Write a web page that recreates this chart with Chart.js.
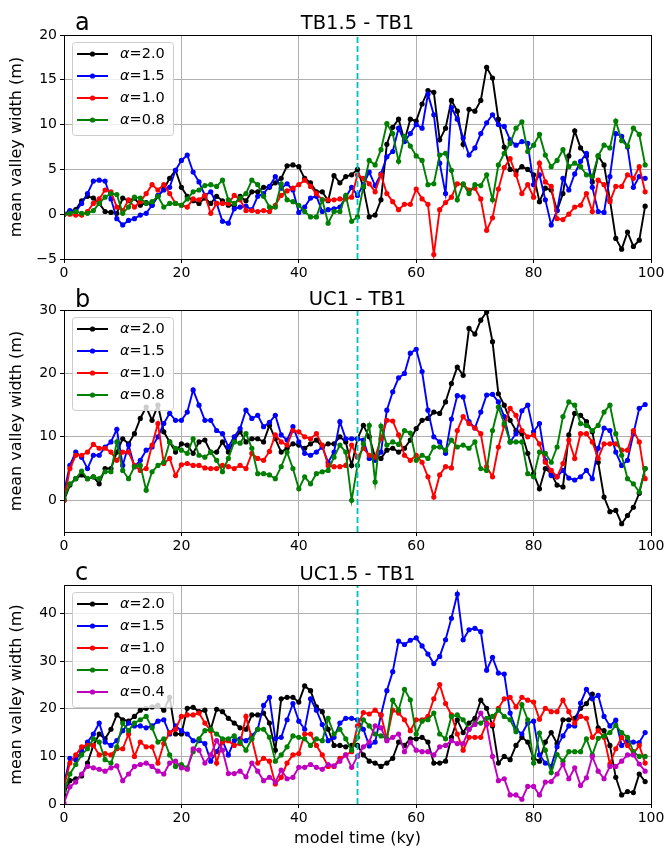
<!DOCTYPE html>
<html>
<head>
<meta charset="utf-8">
<script src="https://cdn.jsdelivr.net/npm/chart.js@4.4.1/dist/chart.umd.min.js"></script>
<style>
  body { margin: 0; background: #fff; }
  canvas.panel { position: absolute; left: 0; }
</style>
</head>
<body>
<canvas id="chartA" class="panel" width="669" height="282" style="top:0px"></canvas>
<canvas id="chartB" class="panel" width="669" height="273" style="top:282px"></canvas>
<canvas id="chartC" class="panel" width="669" height="293" style="top:555px"></canvas>
<script>
// model time (ky), one sample per ky
const time = [0,1,2,3,4,5,6,7,8,9,10,11,12,13,14,15,16,17,18,19,20,21,22,23,24,25,26,27,28,29,
  30,31,32,33,34,35,36,37,38,39,40,41,42,43,44,45,46,47,48,49,50,51,52,53,54,55,56,57,58,59,
  60,61,62,63,64,65,66,67,68,69,70,71,72,73,74,75,76,77,78,79,80,81,82,83,84,85,86,87,88,89,
  90,91,92,93,94,95,96,97,98,99];

const xTicks = [0, 20, 40, 60, 80, 100];
const yTicksA = [-5, 0, 5, 10, 15, 20];
const yTicksB = [0, 10, 20, 30];
const yTicksC = [0, 10, 20, 30, 40];

const alphaLabels = ['2.0', '1.5', '1.0', '0.8', '0.4'];
const alphaColors = ['#000000', '#0000ff', '#ff0000', '#008000', '#bf00bf'];

// TB1.5 - TB1
const tb15Alpha20 = [0,0.3,0.5,1.5,2.0,1.8,1.2,0.3,0.2,0.1, 1.8,1.5,1.8,1.0,1.3,1.0,2.0,2.8,4.0,4.9,
  3.0,2.0,1.5,1.2,1.8,1.2,2.0,1.5,1.0,1.0, 2.0,1.5,2.5,2.5,3.0,3.0,3.5,4.0,5.4,5.5,
  5.3,4.0,3.5,2.5,2.5,1.5,4.3,3.5,4.2,4.4, 5.0,3.0,-0.3,-0.1,1.6,7.8,9.7,10.6,8.2,10.6,
  10.4,12.3,13.8,13.6,8.3,9.6,12.7,11.5,7.8,11.7, 11.5,12.7,16.4,15.2,10.6,7.5,5.0,4.8,5.3,5.0,
  4.4,1.4,2.9,2.7,0.4,2.3,6.5,9.3,7.4,6.5, 3.6,6.5,5.5,1.6,-2.7,-3.9,-2.0,-3.6,-2.9,0.9];
const tb15Alpha15 = [0,0.4,0.3,1.2,2.3,3.7,3.8,3.7,1.7,-0.5, -1.2,-0.7,-0.5,-0.1,0.1,1.0,2.1,2.7,3.0,4.9,
  6.0,6.6,4.7,3.6,2.1,2.5,1.2,-0.8,-1.0,0.6, 0.8,0.9,0.5,2.0,2.3,3.1,4.2,2.9,3.4,2.7,
  0.2,0.8,1.8,2.0,0.3,0.5,0.6,0.8,1.9,3.0, 2.1,3.3,4.7,3.2,4.5,6.4,7.0,9.6,8.1,9.0,
  10.0,9.6,13.4,11.1,5.7,2.3,11.9,10.6,8.5,6.6, 7.4,9.0,10.2,11.1,10.0,9.8,8.3,7.7,8.1,7.9,
  3.3,4.4,1.6,-1.2,0.4,4.0,2.7,4.5,5.9,6.8, 3.0,0.3,0.2,4.2,9.0,8.7,7.5,3.0,4.2,4.0];
const tb15Alpha10 = [0,0,-0.1,-0.1,0.3,1.2,1.7,2.7,2.5,0.8, 0.4,1.6,0.8,1.4,2.3,3.3,2.7,3.3,2.3,1.2,
  1.0,0.8,1.7,1.6,2.1,0.1,1.2,1.2,1.2,2.1, 1.6,0.4,0.4,0.3,0.4,0.3,1.0,2.1,2.6,2.9,
  3.3,3.8,3.1,2.3,1.6,1.6,1.6,1.7,1.7,1.9, 4.4,4.0,3.4,2.5,4.4,2.3,1.4,0.5,1.1,1.1,
  2.8,1.7,1.1,-4.5,0.5,1.3,1.9,3.4,3.3,2.7, 2.9,1.7,-1.8,-0.4,2.8,5.2,6.2,4.4,2.3,3.3,
  1.9,5.7,3.6,3.1,-0.5,-0.6,0.0,0.8,1.0,2.3, 0.3,3.8,3.3,1.4,3.1,3.1,4.4,4.0,5.3,2.5];
const tb15Alpha08 = [0,0.1,0.3,0.1,0.1,0.4,1.2,1.9,2.3,2.2, 0.1,0.8,1.9,1.8,1.2,1.4,2.0,0.8,1.2,1.2,
  1.0,1.7,2.5,2.7,3.2,3.3,3.1,3.8,1.6,1.2, 1.8,2.3,3.8,3.3,2.0,0.8,0.8,3.4,1.6,1.4,
  1.0,0.3,-0.3,-0.3,1.6,-1.0,0.3,0.3,2.1,-0.8, -0.3,3.1,6.0,5.5,7.2,10.1,9.0,5.9,8.7,7.6,
  6.5,6.0,3.3,3.4,6.6,6.8,4.9,1.6,3.4,2.3, 3.3,3.2,4.4,1.6,5.5,6.8,7.9,9.6,10.3,7.0,
  7.7,8.9,6.6,5.3,6.0,7.2,5.3,5.7,5.3,4.4, 4.2,6.5,7.7,7.4,10.4,8.2,7.6,9.6,8.9,5.5];

// UC1 - TB1
const uc1Alpha20 = [0,2.4,3.4,4.0,3.4,3.7,2.6,5.0,5.0,7.6, 9.7,8.9,10.5,12.9,14.7,12.6,15.0,10.8,9.2,7.6,
  8.9,8.7,7.4,9.2,9.5,7.6,7.6,9.2,7.6,9.5, 10.8,9.2,9.7,9.7,9.2,11.8,9.7,7.6,8.2,8.9,
  8.7,8.2,8.9,9.5,8.4,8.9,8.9,10.0,9.2,5.5, 9.7,11.8,10.0,6.8,6.6,7.9,8.2,7.6,8.2,9.5,
  11.3,12.6,12.9,13.9,13.7,15.5,18.4,21.0,19.7,27.1, 26.2,28.4,29.7,25.0,16.8,15.0,12.6,11.0,10.5,7.4,
  4.2,1.8,5.0,4.2,2.4,2.1,10.3,13.7,13.4,12.4, 10.8,6.0,0.5,-1.8,-1.6,-3.7,-2.4,-1.1,1.1,5.0];
const uc1Alpha15 = [1.3,5.5,7.6,6.8,5.0,7.1,7.1,8.4,9.2,11.2, 5.5,8.7,5.3,6.3,7.9,8.4,10.0,12.1,13.7,12.6,
  12.6,13.9,17.4,15.0,12.6,12.6,11.0,10.5,8.4,10.0, 11.3,14.2,12.9,13.4,11.6,12.3,13.4,10.3,9.5,11.6,
  9.2,7.4,7.1,7.6,8.4,6.0,7.6,12.4,9.7,9.7, 9.7,9.5,6.6,6.3,7.6,14.2,17.1,19.3,20.0,23.2,
  23.8,20.3,14.2,10.0,9.2,7.4,12.8,16.5,16.3,12.4, 11.4,13.9,16.6,16.7,15.5,13.2,9.2,10.5,14.1,15.0,
  10.8,12.1,6.3,3.9,3.7,4.7,3.5,3.2,3.7,4.7, 3.4,8.2,11.4,11.0,7.6,5.5,6.3,10.5,14.5,15.1];
const uc1Alpha10 = [0,5.0,7.1,7.1,7.6,8.8,8.2,8.2,7.6,6.3, 7.6,7.6,5.5,4.7,5.0,8.7,12.1,5.8,6.6,3.9,
  5.6,5.8,5.5,5.5,5.1,5.0,5.0,5.5,5.3,5.0, 5.5,5.0,7.4,6.6,6.3,7.7,10.3,9.2,8.7,11.0,
  10.8,10.0,9.7,10.5,8.7,5.5,5.3,5.3,5.5,8.7, 6.8,8.2,7.1,6.8,9.7,12.6,12.5,10.3,7.1,6.3,
  7.1,6.0,3.7,0.5,4.0,5.3,5.1,11.0,13.2,12.1, 11.4,10.5,5.3,3.7,8.4,11.8,14.5,13.4,11.0,10.0,
  10.3,8.9,6.0,4.7,3.7,5.8,9.5,6.6,10.5,10.5, 9.2,6.6,8.9,8.9,8.9,7.9,7.9,11.0,9.2,3.4];
const uc1Alpha08 = [0.3,2.6,3.4,4.6,3.4,3.7,3.4,4.5,4.5,9.2, 4.7,3.4,5.3,5.5,1.6,4.5,5.5,6.0,9.2,8.2,
  7.9,7.4,9.7,7.1,6.8,7.6,6.3,4.5,6.6,9.2, 9.0,10.5,8.2,4.2,4.2,4.0,3.4,5.3,7.6,5.0,
  1.8,3.7,2.6,4.2,4.5,4.7,6.8,8.7,7.6,0.0, 5.5,8.9,11.8,2.9,11.7,8.7,9.2,8.8,11.0,10.6,
  6.3,7.1,6.6,8.4,8.4,7.9,9.5,8.4,8.7,8.2, 9.2,5.0,4.7,11.0,14.7,12.1,9.2,9.2,9.2,4.2,
  3.7,7.6,7.4,6.0,8.4,13.2,15.5,15.0,12.1,11.8, 11.0,11.8,13.9,15.0,10.5,7.1,3.4,2.6,1.3,5.0];

// UC1.5 - TB1
const uc15Alpha20 = [2.0,4.9,5.3,5.9,8.6,12.3,14.7,13.7,15.7,18.7, 17.7,17.4,18.4,19.7,20.1,20.4,20.7,19.7,22.4,14.7,
  14.7,20.1,20.3,19.4,19.7,15.7,19.9,19.4,18.0,17.0, 16.0,15.7,18.7,18.7,19.1,17.0,11.3,22.1,22.4,22.4,
  21.4,24.8,23.8,20.4,19.4,15.7,12.3,12.3,12.0,12.3, 12.3,10.3,9.0,8.6,7.9,8.6,9.6,13.0,12.3,13.7,
  13.7,14.0,13.0,8.6,8.6,9.0,14.0,17.7,15.0,17.0, 18.0,21.8,20.1,16.4,8.6,10.0,9.3,12.3,14.0,13.0,
  9.6,9.0,13.0,15.0,12.7,17.7,17.7,18.0,20.1,21.1, 23.1,16.0,15.4,12.3,5.6,1.9,2.6,2.4,6.3,4.7];
const uc15Alpha15 = [4.2,9.6,9.3,11.1,13.0,14.7,17.0,13.0,12.3,13.3, 15.4,17.0,16.4,16.4,16.0,16.4,17.4,17.7,14.7,16.4,
  15.4,14.7,13.3,13.3,12.7,9.0,11.0,13.3,10.3,13.3, 13.7,13.3,14.3,15.7,20.7,22.4,13.7,14.0,17.7,21.1,
  17.4,15.7,22.1,19.7,16.7,13.3,14.0,17.0,18.0,18.0, 17.7,15.7,12.2,13.0,18.7,23.8,27.8,34.2,33.5,34.4,
  34.9,33.2,31.5,29.5,31.0,34.5,39.0,44.1,34.5,36.6, 36.9,36.2,28.1,30.8,27.5,27.3,19.1,15.7,14.7,17.0,
  17.4,10.3,8.6,7.9,12.0,14.3,16.4,16.4,21.2,24.1, 22.1,22.8,18.4,16.4,17.6,12.3,13.3,13.0,12.9,15.0];
const uc15Alpha10 = [3.6,8.6,10.3,12.0,12.3,12.3,10.3,10.6,10.3,11.6, 11.6,14.7,10.0,13.0,12.0,12.0,8.6,12.7,15.0,15.7,
  18.4,18.7,18.7,19.1,17.0,15.4,8.6,13.0,13.3,12.3, 12.7,18.4,13.7,8.6,9.6,9.0,4.2,5.6,8.6,10.3,
  10.6,14.7,14.7,12.3,10.3,7.9,7.9,9.6,10.3,11.0, 16.4,19.2,18.9,19.7,18.7,13.7,19.7,19.1,17.7,15.4,
  17.7,17.7,18.4,22.1,25.1,21.1,18.7,14.7,11.3,14.0, 14.0,14.0,17.0,16.7,20.1,22.1,22.4,20.4,22.4,21.8,
  21.4,17.8,20.1,19.4,19.4,21.8,19.4,17.0,18.4,18.0, 14.0,15.4,14.0,8.4,11.6,14.0,12.3,10.6,12.3,8.6];
const uc15Alpha08 = [2.6,6.3,8.3,10.3,11.6,13.7,13.0,9.3,8.6,12.0, 17.0,15.4,17.0,17.7,18.4,16.0,13.0,13.7,10.3,7.9,
  8.3,7.6,11.0,13.7,15.4,15.7,14.7,13.7,13.7,14.3, 13.0,11.3,13.7,15.7,15.7,14.0,9.0,10.3,12.0,14.3,
  14.0,13.7,12.3,13.7,13.3,18.0,14.7,15.7,13.7,11.3, 14.0,17.7,16.4,14.7,14.3,13.7,21.8,19.7,24.1,21.9,
  14.7,17.4,17.7,19.1,14.7,13.7,18.4,18.7,17.7,15.7, 17.0,17.0,18.0,18.4,19.7,18.4,17.7,15.2,20.9,17.7,
  8.6,14.9,11.3,6.6,10.4,9.0,11.0,11.0,11.0,13.7, 10.3,13.8,14.3,15.0,16.5,15.0,14.0,11.0,10.0,10.0];
const uc15Alpha04 = [0.2,3.6,4.6,6.3,7.9,7.6,7.3,6.9,7.6,8.0, 4.9,6.3,7.9,8.3,8.6,7.9,6.9,6.3,8.6,9.0,
  7.6,7.3,11.6,11.3,8.6,10.3,13.3,11.3,6.4,6.4, 6.9,5.7,8.6,6.9,4.9,5.6,4.6,7.1,5.3,5.6,
  7.7,7.7,8.3,7.7,7.3,8.3,8.0,9.0,10.3,7.7, 10.0,12.0,13.0,16.4,16.0,13.3,14.0,14.7,11.0,13.0,
  11.3,11.0,11.0,10.3,12.0,12.3,13.3,12.7,12.7,15.7, 16.7,19.1,16.7,10.0,4.9,5.3,1.9,1.9,1.0,3.7,
  3.7,1.9,4.6,4.7,6.3,8.3,5.3,7.6,3.9,5.5, 10.0,6.9,5.3,7.9,7.9,9.0,10.3,10.3,8.4,6.9];

const MARK_TIME = 50;   // dashed marker on the time axis

// frame, title, panel letter and the line+marker legend
const panelDecor = {
  id: 'panelDecor',
  afterDatasetsDraw(chart, args, opts) {
    const ctx = chart.ctx;
    const area = chart.chartArea;
    ctx.save();

    // legend box (semi transparent, over the lines)
    const bx = area.left + 8, by = area.top + 7;
    const rowGap = 22;
    const bw = 101, bh = 27 + (opts.count - 1) * rowGap;
    ctx.fillStyle = 'rgba(255,255,255,0.8)';
    ctx.strokeStyle = '#cccccc';
    ctx.lineWidth = 1;
    ctx.beginPath();
    ctx.roundRect(bx + 0.5, by + 0.5, bw, bh, 3);
    ctx.fill();
    ctx.stroke();
    for (let i = 0; i < opts.count; i++) {
      const y = by + 12 + i * rowGap;
      ctx.strokeStyle = alphaColors[i];
      ctx.lineWidth = 2;
      ctx.beginPath();
      ctx.moveTo(bx + 5, y);
      ctx.lineTo(bx + 36, y);
      ctx.stroke();
      ctx.fillStyle = alphaColors[i];
      ctx.beginPath();
      ctx.arc(bx + 20.5, y, 2.6, 0, Math.PI * 2);
      ctx.fill();
      ctx.fillStyle = '#000';
      ctx.textAlign = 'left';
      ctx.textBaseline = 'middle';
      ctx.font = 'italic 14.5px "DejaVu Sans"';
      ctx.fillText('\u03b1', bx + 48, y);
      const w = ctx.measureText('\u03b1').width;
      ctx.font = '14.5px "DejaVu Sans"';
      ctx.fillText('=' + alphaLabels[i], bx + 48 + w, y);
    }

    // axes frame
    ctx.strokeStyle = '#000';
    ctx.lineWidth = 1;
    ctx.strokeRect(Math.round(area.left) + 0.5, Math.round(area.top) + 0.5,
      Math.round(area.right - area.left), Math.round(area.bottom - area.top));

    // title and letter
    ctx.fillStyle = '#000';
    ctx.textBaseline = 'alphabetic';
    ctx.textAlign = 'center';
    ctx.font = '19.5px "DejaVu Sans"';
    ctx.fillText(opts.title, (area.left + area.right) / 2, opts.titleY);
    ctx.textAlign = 'left';
    ctx.font = '24px "DejaVu Sans"';
    ctx.fillText(opts.letter, 75, opts.letterY);
    ctx.restore();
  }
};

// tick labels with a real minus sign
function minusLabel(v) {
  return String(v).replace('-', '\u2212');
}

function makePanel(canvasId, p) {
  const datasets = p.series.map(function (vals, i) {
    return {
      data: vals.map(function (v, k) { return { x: time[k], y: v }; }),
      borderColor: alphaColors[i],
      backgroundColor: alphaColors[i],
      borderWidth: 1.9,
      pointRadius: 2.6,
      pointBorderWidth: 0,
      pointHoverRadius: 0,
      tension: 0,
      order: 10 - i
    };
  });
  datasets.push({
    data: [{ x: MARK_TIME, y: p.yMin }, { x: MARK_TIME, y: p.yMax }],
    borderColor: '#00bfbf',
    borderWidth: 1.8,
    borderDash: [6, 3],
    pointRadius: 0,
    order: 0
  });

  const tickFont = { family: '"DejaVu Sans"', size: 14 };
  new Chart(document.getElementById(canvasId), {
    type: 'line',
    data: { datasets: datasets },
    options: {
      responsive: false,
      animation: false,
      events: [],
      layout: { padding: { top: p.padTop, right: 18, bottom: 0, left: 0 } },
      plugins: {
        legend: { display: false },
        tooltip: { enabled: false },
        panelDecor: {
          count: p.series.length,
          title: p.title,
          letter: p.letter,
          titleY: p.titleY,
          letterY: p.letterY
        }
      },
      scales: {
        x: {
          type: 'linear',
          min: 0,
          max: 100,
          afterBuildTicks: function (s) { s.ticks = xTicks.map(function (v) { return { value: v }; }); },
          afterFit: function (s) { s.height = p.xAxisHeight; },
          grid: { color: '#b0b0b0', lineWidth: 1, tickColor: '#000', tickLength: 4 },
          border: { color: '#000', width: 1 },
          ticks: { color: '#000', font: tickFont, padding: 2, maxRotation: 0 },
          title: {
            display: p.showXTitle,
            text: 'model time (ky)',
            color: '#000',
            font: { family: '"DejaVu Sans"', size: 16 },
            padding: { top: 0, bottom: 0 }
          }
        },
        y: {
          min: p.yMin,
          max: p.yMax,
          afterBuildTicks: function (s) { s.ticks = p.yTicks.map(function (v) { return { value: v }; }); },
          afterFit: function (s) { s.width = 64; },
          grid: { color: '#b0b0b0', lineWidth: 1, tickColor: '#000', tickLength: 4 },
          border: { color: '#000', width: 1 },
          ticks: { color: '#000', font: tickFont, padding: 3, callback: minusLabel },
          title: {
            display: true,
            text: 'mean valley width (m)',
            color: '#000',
            font: { family: '"DejaVu Sans"', size: 16 },
            padding: { top: 7, bottom: 0 }
          }
        }
      }
    },
    plugins: [panelDecor]
  });
}

makePanel('chartA', {
  series: [tb15Alpha20, tb15Alpha15, tb15Alpha10, tb15Alpha08],
  yMin: -5, yMax: 20, yTicks: yTicksA,
  padTop: 35, xAxisHeight: 23, showXTitle: false,
  title: 'TB1.5 - TB1', letter: 'a', titleY: 29, letterY: 30
});
makePanel('chartB', {
  series: [uc1Alpha20, uc1Alpha15, uc1Alpha10, uc1Alpha08],
  yMin: -5, yMax: 30, yTicks: yTicksB,
  padTop: 28, xAxisHeight: 23, showXTitle: false,
  title: 'UC1 - TB1', letter: 'b', titleY: 23, letterY: 25
});
makePanel('chartC', {
  series: [uc15Alpha20, uc15Alpha15, uc15Alpha10, uc15Alpha08, uc15Alpha04],
  yMin: 0, yMax: 46, yTicks: yTicksC,
  padTop: 30, xAxisHeight: 44, showXTitle: true,
  title: 'UC1.5 - TB1', letter: 'c', titleY: 25, letterY: 25
});
</script>
</body>
</html>
